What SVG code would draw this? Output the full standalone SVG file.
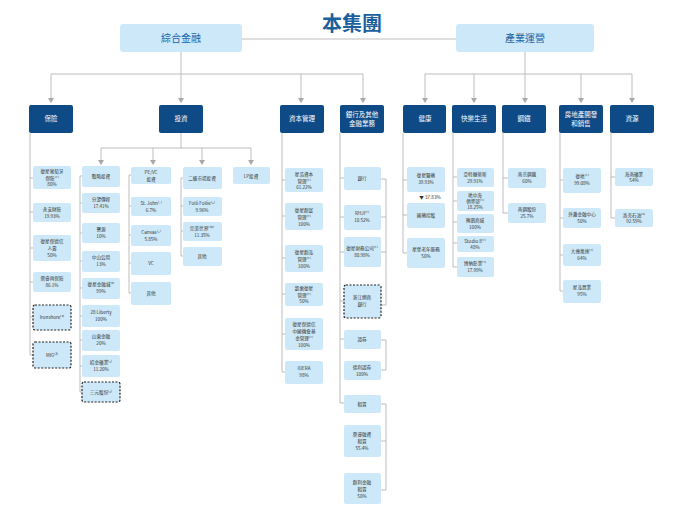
<svg xmlns="http://www.w3.org/2000/svg" width="690" height="514" viewBox="0 0 690 514">
<style>
text{font-family:"Noto Sans CJK TC","Noto Sans CJK SC",sans-serif;text-anchor:middle}
.t{font-size:20px;fill:#1a5f9e;font-weight:bold}
.l1{fill:#cde9f9}
.l1t{font-size:10px;fill:#1a5f9e}
.d{fill:#0e4a86}
.dt{font-size:6.5px;fill:#fff}
.b{fill:#cde9f9}
.dash{fill:#cde9f9;stroke:#222;stroke-width:1.2;stroke-dasharray:2 1.5}
.s{font-size:4.6px;fill:#333}
.ln{stroke:#b5b5b5;stroke-width:0.9;fill:none}
</style>
<text class="t" x="352" y="31">本集團</text>
<g id="connectors" class="ln">
<path d="M242,39H456"/>
<path d="M181,52V98M51,74H363M51,74V98M301,74V98M363,74V98"/>
<path d="M525,52V98M425,74H632M425,74V98M474,74V98M581,74V98M632,74V98"/>
<path d="M181,133V148M101,148H251M101,148V160M153,148V160M202,148V160M251,148V160"/>
<path d="M30,133V355M30,178H33M30,212H33M30,248H33M30,282H33M30,317H33M30,355H33"/>
<path d="M80,176V392M80,176H82M80,203H82M80,233H82M80,261H82M80,288H82M80,316H82M80,340H82M80,366H82M80,392H82"/>
<path d="M129,175V293M129,175H131M129,206H131M129,235H131M129,263H131M129,293H131"/>
<path d="M181,178V256M181,178H183M181,206H183M181,231H183M181,256H183"/>
<path d="M282,133V372M282,180H285M282,216H285M282,258H285M282,294H285M282,334H285M282,372H285"/>
<path d="M340,133V403M340,178H344M340,217H344M340,252H344M340,301H344M340,339H344M340,403H344"/>
<path d="M381,179H386V305H381M381,217H386M381,252H386"/>
<path d="M381,340H386V370H381M381,404H386V490H381M381,441H386"/>
<path d="M403,133V253M403,180H407M403,215H407M403,253H407"/>
<path d="M453,133V267M453,177H457M453,201H457M453,222H457M453,243H457M453,267H457"/>
<path d="M503,133V213M503,178H508M503,213H508"/>
<path d="M560,133V291M560,180H563M560,218H563M560,255H563M560,291H563"/>
<path d="M611,133V218M611,177H615M611,218H615"/>
<g fill="#a8a8a8" stroke="none"><path d="M178,98h6l-3,5z"/><path d="M48,98h6l-3,5z"/><path d="M298,98h6l-3,5z"/><path d="M360,98h6l-3,5z"/><path d="M422,98h6l-3,5z"/><path d="M471,98h6l-3,5z"/><path d="M522,98h6l-3,5z"/><path d="M578,98h6l-3,5z"/><path d="M629,98h6l-3,5z"/><path d="M98,160h6l-3,5z"/><path d="M150,160h6l-3,5z"/><path d="M199,160h6l-3,5z"/><path d="M248,160h6l-3,5z"/></g>
</g>
<g id="top-l"><rect class="l1" x="120" y="24" width="122" height="28" rx="3"/><text class="l1t" x="181" y="42">綜合金融</text></g>
<g id="top-r"><rect class="l1" x="456" y="24" width="138" height="28" rx="3"/><text class="l1t" x="525" y="42">產業運營</text></g>
<g id="seg">
<rect class="d" x="29" y="105" width="44" height="28" rx="2"/><text class="dt" x="51" y="121">保險</text>
<rect class="d" x="159" y="105" width="44" height="28" rx="2"/><text class="dt" x="181" y="121">投資</text>
<rect class="d" x="280" y="105" width="44" height="28" rx="2"/><text class="dt" x="302" y="121">資本管理</text>
<rect class="d" x="340" y="105" width="44" height="28" rx="2"/><text class="dt" x="362" y="117">銀行及其他</text><text class="dt" x="362" y="126">金融業務</text>
<rect class="d" x="403" y="105" width="43" height="28" rx="2"/><text class="dt" x="425" y="121">健康</text>
<rect class="d" x="452" y="105" width="44" height="28" rx="2"/><text class="dt" x="474" y="121">快樂生活</text>
<rect class="d" x="502" y="105" width="44" height="28" rx="2"/><text class="dt" x="524" y="121">鋼鐵</text>
<rect class="d" x="559" y="105" width="44" height="28" rx="2"/><text class="dt" x="581" y="117">房地產開發</text><text class="dt" x="581" y="126">和銷售</text>
<rect class="d" x="610" y="105" width="44" height="28" rx="2"/><text class="dt" x="632" y="121">資源</text>
</g>
<g id="ins">
<rect class="b" x="33" y="166" width="38" height="23" rx="2"/><text class="s" x="52" y="173">復星葡萄牙</text><text class="s" x="52" y="179.5">保險⁽¹⁾</text><text class="s" x="52" y="186">80%</text>
<rect class="b" x="33" y="203" width="38" height="19" rx="2"/><text class="s" x="52" y="211">永安財險</text><text class="s" x="52" y="218">19.93%</text>
<rect class="b" x="33" y="235" width="38" height="26" rx="2"/><text class="s" x="52" y="243">復星保德信</text><text class="s" x="52" y="250">人壽</text><text class="s" x="52" y="257">50%</text>
<rect class="b" x="33" y="272" width="38" height="20" rx="2"/><text class="s" x="52" y="280">鼎睿再保險</text><text class="s" x="52" y="287">86.1%</text>
<rect class="dash" x="33" y="305" width="38" height="25" rx="2"/><text class="s" x="52" y="319">Ironshore⁽²⁾</text>
<rect class="dash" x="33" y="342" width="38" height="26" rx="2"/><text class="s" x="52" y="357">MIG⁽³⁾</text>
</g>
<g id="inv-s">
<rect class="b" x="82" y="166" width="38" height="21" rx="2"/><text class="s" x="101" y="178">戰略投資</text>
<rect class="b" x="82" y="193" width="38" height="20" rx="2"/><text class="s" x="101" y="201">分眾傳媒</text><text class="s" x="101" y="208">17.41%</text>
<rect class="b" x="82" y="223" width="38" height="20" rx="2"/><text class="s" x="101" y="231">聚源</text><text class="s" x="101" y="238">10%</text>
<rect class="b" x="82" y="251" width="38" height="21" rx="2"/><text class="s" x="101" y="259">中山公用</text><text class="s" x="101" y="266">13%</text>
<rect class="b" x="82" y="278" width="38" height="21" rx="2"/><text class="s" x="101" y="286">復星金融城⁽⁴⁾</text><text class="s" x="101" y="293">99%</text>
<rect class="b" x="82" y="305" width="38" height="22" rx="2"/><text class="s" x="101" y="314">28 Liberty</text><text class="s" x="101" y="321">100%</text>
<rect class="b" x="82" y="330" width="38" height="21" rx="2"/><text class="s" x="101" y="338">山東金融</text><text class="s" x="101" y="345">20%</text>
<rect class="b" x="82" y="355" width="38" height="22" rx="2"/><text class="s" x="101" y="364">招金礦業⁽⁵⁾</text><text class="s" x="101" y="371">11.20%</text>
<rect class="dash" x="82" y="382" width="38" height="20" rx="2"/><text class="s" x="101" y="394">三元股份⁽⁶⁾</text>
</g>
<g id="inv-pe">
<rect class="b" x="131" y="167" width="40" height="17" rx="2"/><text class="s" x="151" y="174">PE/VC</text><text class="s" x="151" y="181">投資</text>
<rect class="b" x="131" y="197" width="40" height="19" rx="2"/><text class="s" x="151" y="205">St. John⁽⁷⁾</text><text class="s" x="151" y="212">6.7%</text>
<rect class="b" x="131" y="225" width="40" height="21" rx="2"/><text class="s" x="151" y="234">Canvas⁽⁸⁾</text><text class="s" x="151" y="241">5.85%</text>
<rect class="b" x="131" y="252" width="40" height="23" rx="2"/><text class="s" x="151" y="265">VC</text>
<rect class="b" x="131" y="282" width="40" height="23" rx="2"/><text class="s" x="151" y="295">其他</text>
</g>
<g id="inv-2">
<rect class="b" x="183" y="167" width="39" height="22" rx="2"/><text class="s" x="202" y="180">二級市場投資</text>
<rect class="b" x="183" y="197" width="39" height="19" rx="2"/><text class="s" x="202" y="205">Folli Follie⁽⁹⁾</text><text class="s" x="202" y="212">9.96%</text>
<rect class="b" x="183" y="222" width="39" height="19" rx="2"/><text class="s" x="202" y="230">完美世界⁽¹⁰⁾</text><text class="s" x="202" y="237">11.35%</text>
<rect class="b" x="183" y="247" width="39" height="19" rx="2"/><text class="s" x="202" y="258">其他</text>
</g>
<g id="inv-lp"><rect class="b" x="233" y="167" width="37" height="17" rx="2"/><text class="s" x="251" y="178">LP投資</text></g>
<g id="cap">
<rect class="b" x="285" y="168" width="38" height="24" rx="2"/><text class="s" x="304" y="176">星浩資本</text><text class="s" x="304" y="183">管理⁽¹⁾</text><text class="s" x="304" y="189">61.22%</text>
<rect class="b" x="285" y="203" width="38" height="27" rx="2"/><text class="s" x="304" y="212">復星創富</text><text class="s" x="304" y="219">管理⁽¹⁾</text><text class="s" x="304" y="226">100%</text>
<rect class="b" x="285" y="245" width="38" height="27" rx="2"/><text class="s" x="304" y="254">復星創泓</text><text class="s" x="304" y="261">管理⁽¹⁾</text><text class="s" x="304" y="268">100%</text>
<rect class="b" x="285" y="283" width="38" height="23" rx="2"/><text class="s" x="304" y="290">凱雷復星</text><text class="s" x="304" y="296.5">管理⁽¹⁾</text><text class="s" x="304" y="303">50%</text>
<rect class="b" x="285" y="318" width="38" height="32" rx="2"/><text class="s" x="304" y="326">復星保德信</text><text class="s" x="304" y="333">中國機會基</text><text class="s" x="304" y="340">金管理⁽¹⁾</text><text class="s" x="304" y="347">100%</text>
<rect class="b" x="285" y="361" width="38" height="23" rx="2"/><text class="s" x="304" y="370">IDERA</text><text class="s" x="304" y="377">98%</text>
</g>
<g id="bank">
<rect class="b" x="344" y="167" width="37" height="23" rx="2"/><text class="s" x="362" y="180">銀行</text>
<rect class="b" x="344" y="205" width="37" height="25" rx="2"/><text class="s" x="362" y="215">RHJI⁽¹⁾</text><text class="s" x="362" y="222">10.52%</text>
<rect class="b" x="344" y="237" width="37" height="30" rx="2"/><text class="s" x="362" y="250">復星財務公司⁽¹⁾</text><text class="s" x="362" y="257">80.98%</text>
<rect class="dash" x="344" y="285" width="37" height="33" rx="2"/><text class="s" x="362" y="299">浙江網商</text><text class="s" x="362" y="306">銀行</text>
<rect class="b" x="344" y="330" width="37" height="19" rx="2"/><text class="s" x="362" y="341">證券</text>
<rect class="b" x="344" y="361" width="37" height="19" rx="2"/><text class="s" x="362" y="369">德利證券</text><text class="s" x="362" y="376">100%</text>
<rect class="b" x="344" y="395" width="37" height="18" rx="2"/><text class="s" x="362" y="406">租賃</text>
<rect class="b" x="344" y="425" width="37" height="32" rx="2"/><text class="s" x="362" y="436">鼎睿融資</text><text class="s" x="362" y="443">租賃</text><text class="s" x="362" y="450">55.4%</text>
<rect class="b" x="344" y="473" width="37" height="31" rx="2"/><text class="s" x="362" y="484">創利金融</text><text class="s" x="362" y="491">租賃</text><text class="s" x="362" y="498">50%</text>
</g>
<g id="health">
<rect class="b" x="407" y="167" width="38" height="25" rx="2"/><text class="s" x="426" y="177">復星醫藥</text><text class="s" x="426" y="184">39.93%</text>
<text class="s" x="430" y="199">▼ 37.83%</text>
<rect class="b" x="407" y="203" width="38" height="25" rx="2"/><text class="s" x="426" y="217">國藥控股</text>
<rect class="b" x="407" y="238" width="38" height="30" rx="2"/><text class="s" x="426" y="251">星堡老年服務</text><text class="s" x="426" y="258">50%</text>
</g>
<g id="life">
<rect class="b" x="457" y="168" width="37" height="19" rx="2"/><text class="s" x="475" y="176">亞特蘭蒂斯</text><text class="s" x="475" y="183">29.91%</text>
<rect class="b" x="457" y="191" width="37" height="20" rx="2"/><text class="s" x="475" y="197">地中海</text><text class="s" x="475" y="203">俱樂部⁽¹⁾</text><text class="s" x="475" y="209">18.25%</text>
<rect class="b" x="457" y="214" width="37" height="19" rx="2"/><text class="s" x="475" y="222">豫園商城</text><text class="s" x="475" y="229">100%</text>
<rect class="b" x="457" y="236" width="37" height="16" rx="2"/><text class="s" x="475" y="243">Studio 8⁽¹⁾</text><text class="s" x="475" y="249">48%</text>
<rect class="b" x="457" y="257" width="37" height="20" rx="2"/><text class="s" x="475" y="265">博納影業⁽¹⁾</text><text class="s" x="475" y="272">17.99%</text>
</g>
<g id="steel">
<rect class="b" x="508" y="168" width="38" height="20" rx="2"/><text class="s" x="527" y="176">南京鋼鐵</text><text class="s" x="527" y="183">60%</text>
<rect class="b" x="508" y="203" width="38" height="20" rx="2"/><text class="s" x="527" y="211">南鋼股份</text><text class="s" x="527" y="218">25.7%</text>
</g>
<g id="prop">
<rect class="b" x="563" y="168" width="38" height="25" rx="2"/><text class="s" x="582" y="178">復地⁽¹⁾</text><text class="s" x="582" y="185">99.08%</text>
<rect class="b" x="563" y="208" width="38" height="20" rx="2"/><text class="s" x="582" y="216">外灘金融中心</text><text class="s" x="582" y="223">50%</text>
<rect class="b" x="563" y="244" width="38" height="22" rx="2"/><text class="s" x="582" y="253">大連萬達⁽¹⁾</text><text class="s" x="582" y="260">64%</text>
<rect class="b" x="563" y="280" width="38" height="23" rx="2"/><text class="s" x="582" y="289">星泓置業</text><text class="s" x="582" y="296">95%</text>
</g>
<g id="res">
<rect class="b" x="615" y="168" width="38" height="18" rx="2"/><text class="s" x="634" y="176">海南礦業</text><text class="s" x="634" y="182">54%</text>
<rect class="b" x="615" y="209" width="38" height="18" rx="2"/><text class="s" x="634" y="217">洛克石油⁽²⁾</text><text class="s" x="634" y="223">92.59%</text>
</g>
</svg>
